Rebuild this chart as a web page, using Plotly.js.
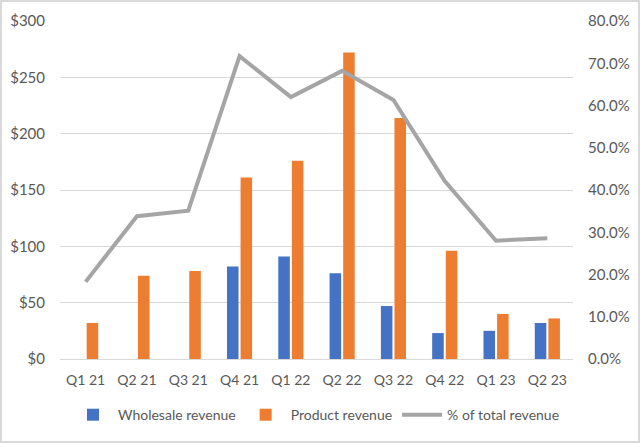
<!DOCTYPE html>
<html>
<head>
<meta charset="utf-8">
<script src="https://cdn.plot.ly/plotly-3.0.1.min.js"></script>
<style>
  html, body { margin: 0; padding: 0; background: #fff; }
  #wrap { position: relative; width: 640px; height: 443px; }
  #chart { width: 640px; height: 443px; }
  #frame { position: absolute; left: 0; top: 0; width: 640px; height: 443px;
           box-sizing: border-box; border: 2px solid #d9d9d9; pointer-events: none; }
</style>
</head>
<body>
<div id="wrap">
  <div id="chart"></div>
  <div id="frame"></div>
</div>
<script>
// Quarterly revenue ($M) and share of total revenue
const quarters = ['Q1 21', 'Q2 21', 'Q3 21', 'Q4 21', 'Q1 22', 'Q2 22', 'Q3 22', 'Q4 22', 'Q1 23', 'Q2 23'];
const wholesaleRevenue = [null, null, null, 82, 91, 76, 47, 23, 25, 32];
const productRevenue = [32, 74, 78, 161, 176, 272, 214, 96, 40, 36];
const pctOfTotal = [0.183, 0.338, 0.351, 0.717, 0.620, 0.682, 0.613, 0.421, 0.280, 0.286];

const textColor = '#595959';
const family = 'Lato, Open Sans, sans-serif';
const yTickFont = { family: family, size: 15, color: textColor };
const xTickFont = { family: family, size: 14, color: textColor };
const legendFont = { family: family, size: 14, color: textColor };

const traces = [
  {
    type: 'bar', name: 'Wholesale revenue', x: quarters, y: wholesaleRevenue,
    marker: { color: '#4472C4' }, hoverinfo: 'x+y'
  },
  {
    type: 'bar', name: 'Product revenue', x: quarters, y: productRevenue,
    marker: { color: '#ED7D31' }, hoverinfo: 'x+y'
  },
  {
    type: 'scatter', mode: 'lines', name: '% of total revenue', x: quarters, y: pctOfTotal,
    yaxis: 'y2', line: { color: '#A5A5A5', width: 4 }
  }
];

const layout = {
  width: 640, height: 443,
  margin: { l: 60, r: 67, t: 21, b: 84 },
  paper_bgcolor: '#ffffff', plot_bgcolor: '#ffffff',
  font: yTickFont,
  barmode: 'group', bargap: 0.47, bargroupgap: 0.15,
  showlegend: true,
  legend: {
    orientation: 'h', x: 0.5, xanchor: 'center', y: -0.166, yanchor: 'middle',
    font: legendFont, traceorder: 'normal', itemwidth: 40
  },
  xaxis: {
    type: 'category', showgrid: false, zeroline: false,
    showline: false, ticks: '', tickfont: xTickFont, ticklabelstandoff: 11
  },
  yaxis: {
    range: [0, 300], dtick: 50, tickprefix: '$', tickformat: ',d',
    showgrid: true, gridcolor: '#d9d9d9', gridwidth: 1,
    zeroline: true, zerolinecolor: '#d9d9d9', zerolinewidth: 1,
    showline: false, ticks: '', tickfont: yTickFont, ticklabelstandoff: 14
  },
  yaxis2: {
    overlaying: 'y', side: 'right', range: [0, 0.8], dtick: 0.1, tickformat: '.1%',
    showgrid: false, zeroline: false, showline: false, ticks: '', tickfont: yTickFont,
    ticklabelstandoff: 14
  }
};

Plotly.newPlot('chart', traces, layout, { displayModeBar: false, staticPlot: true });
</script>
</body>
</html>
